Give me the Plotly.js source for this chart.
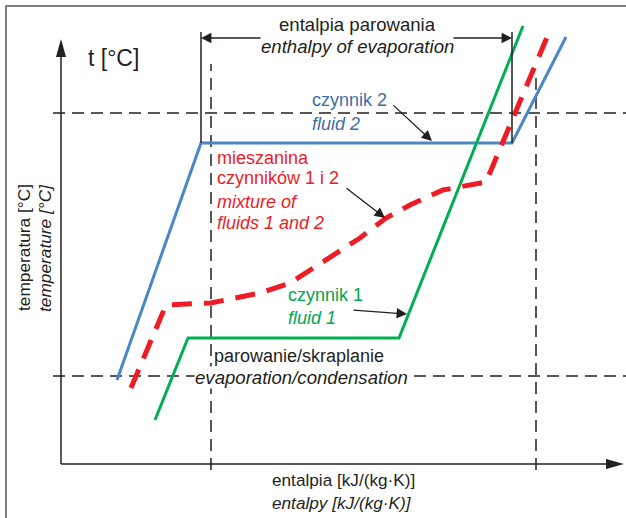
<!DOCTYPE html>
<html>
<head>
<meta charset="utf-8">
<script src="https://cdn.plot.ly/plotly-3.0.1.min.js"></script>
<style>html,body{margin:0;padding:0;background:#fff}</style>
</head>
<body>
<div id="chart" style="width:626px;height:518px"></div>
<script>
// schematic units: h = enthalpy (arbitrary), t = temperature (arbitrary)
const fluid2H = [117, 201, 512, 566];
const fluid2T = [138, 375, 375, 481];
const fluid1H = [155, 188, 399, 523];
const fluid1T = [98, 180, 180, 492];
const mixH = [131, 166, 211, 260, 290, 313, 330, 360, 386, 410, 443, 467, 486, 548];
const mixT = [130, 213, 215, 225, 235, 250, 260, 280, 300, 313, 328, 333, 336, 483];
const evapLevels = [405, 142];      // horizontal dashed reference temperatures
const enthalpyMarks = [211, 536];   // vertical dashed reference enthalpies
const latentBounds = [201, 512];    // enthalpy of evaporation bracket

const FONT = "'Liberation Sans Narrow', 'Arial Narrow', 'Liberation Sans', Arial, sans-serif";
const DARK = '#231f20';
const BLUE = '#4a86c8', GREEN = '#00b050', RED = '#ee1c25';
const BLUE_T = '#3b6ea8', GREEN_T = '#00a651', RED_T = '#ed1c24';
const FS = 18;

const traces = [
  {x: fluid2H, y: fluid2T, mode: 'lines', line: {color: BLUE, width: 3}, hoverinfo: 'skip'},
  {x: fluid1H, y: fluid1T, mode: 'lines', line: {color: GREEN, width: 3}, hoverinfo: 'skip'},
  {x: mixH, y: mixT, mode: 'lines', line: {color: RED, width: 5, dash: '20px,12px'}, hoverinfo: 'skip'}
];

const shapes = [];
// frame
shapes.push({type: 'rect', xref: 'x', yref: 'y', x0: 6, x1: 640, y0: -20, y1: 512, line: {color: '#555', width: 1.5}, layer: 'below'});
// axes
shapes.push({type: 'line', x0: 61, x1: 61, y0: 54, y1: 465, line: {color: DARK, width: 1.5}});
shapes.push({type: 'line', x0: 61, x1: 610, y0: 54, y1: 54, line: {color: DARK, width: 1.5}});
shapes.push({type: 'path', path: 'M 56 461 L 66 461 L 61 479 Z', fillcolor: DARK, line: {width: 0}});
shapes.push({type: 'path', path: 'M 606 59 L 606 49 L 624 54 Z', fillcolor: DARK, line: {width: 0}});
// dashed reference lines
shapes.push({type: 'line', x0: 53, x1: 626, y0: evapLevels[0], y1: evapLevels[0], line: {color: DARK, width: 1.5, dash: '12px,7px'}, layer: 'below'});
shapes.push({type: 'line', x0: 53, x1: 626, y0: evapLevels[1], y1: evapLevels[1], line: {color: DARK, width: 1.5, dash: '12px,7px'}, layer: 'below'});
shapes.push({type: 'line', x0: enthalpyMarks[0], x1: enthalpyMarks[0], y0: 48, y1: 454, line: {color: DARK, width: 1.5, dash: '12px,7px'}, layer: 'below'});
shapes.push({type: 'line', x0: enthalpyMarks[1], x1: enthalpyMarks[1], y0: 48, y1: 446, line: {color: DARK, width: 1.5, dash: '12px,7px'}, layer: 'below'});
// bracket verticals
shapes.push({type: 'line', x0: latentBounds[0], x1: latentBounds[0], y0: 375, y1: 486, line: {color: DARK, width: 1.5}});
shapes.push({type: 'line', x0: latentBounds[1], x1: latentBounds[1], y0: 375, y1: 486, line: {color: DARK, width: 1.5}});

function txt(x, y, text, color, size, opts) {
  return Object.assign({x: x, y: y, xref: 'x', yref: 'y', text: text, showarrow: false, borderpad: 0,
    xanchor: 'left', yanchor: 'middle', font: {family: FONT, size: size, color: color}}, opts || {});
}
function arrow(x, y, ax, ay) {
  return {x: x, y: y, ax: ax, ay: ay, xref: 'x', yref: 'y', axref: 'x', ayref: 'y', text: '',
    showarrow: true, arrowhead: 2, arrowsize: 1.6, arrowwidth: 1.3, arrowcolor: DARK};
}

const annotations = [
  txt(87, 460, 't [°C]', DARK, 23),
  txt(24, 270, 'temperatura [°C]', DARK, 17.3, {xanchor: 'center', textangle: -90}),
  txt(45, 270, '<i>temperature [°C]</i>', DARK, 17.3, {xanchor: 'center', textangle: -90}),
  txt(357, 494, 'entalpia parowania', DARK, 18.6, {xanchor: 'center'}),
  txt(357, 472, '<i>enthalpy of evaporation</i>', DARK, 18.6, {xanchor: 'center'}),
  txt(311, 418, 'czynnik 2', BLUE_T, FS),
  txt(311, 394, '<i>fluid 2</i>', BLUE_T, FS),
  txt(216, 360, 'mieszanina', RED_T, FS),
  txt(216, 340, 'czynników 1 i 2', RED_T, FS),
  txt(216, 316, '<i>mixture of</i>', RED_T, FS),
  txt(216, 295, '<i>fluids 1 and 2</i>', RED_T, FS),
  txt(287, 223, 'czynnik 1', GREEN_T, FS),
  txt(287, 200, '<i>fluid 1</i>', GREEN_T, FS),
  txt(213, 162, 'parowanie/skraplanie', DARK, FS),
  txt(194, 141, '<i>evaporation/condensation</i>', DARK, 18.6, {bgcolor: '#ffffff'}),
  txt(343, 38, 'entalpia [kJ/(kg·K)]', DARK, 17.2, {xanchor: 'center'}),
  txt(342, 15, '<i>entalpy [kJ/(kg·K)]</i>', DARK, 17.2, {xanchor: 'center'}),
  arrow(201, 480, 262, 480),
  arrow(512, 480, 452, 480),
  arrow(432, 377, 392, 414),
  arrow(385, 300, 345, 331),
  arrow(407, 204, 352, 208)
];

const layout = {
  width: 626, height: 518,
  margin: {l: 0, r: 0, t: 0, b: 0},
  paper_bgcolor: '#ffffff', plot_bgcolor: '#ffffff',
  showlegend: false,
  xaxis: {range: [0, 626], visible: false, fixedrange: true},
  yaxis: {range: [0, 518], visible: false, fixedrange: true},
  shapes: shapes,
  annotations: annotations
};

Plotly.newPlot('chart', traces, layout, {displayModeBar: false, staticPlot: true});
</script>
</body>
</html>
